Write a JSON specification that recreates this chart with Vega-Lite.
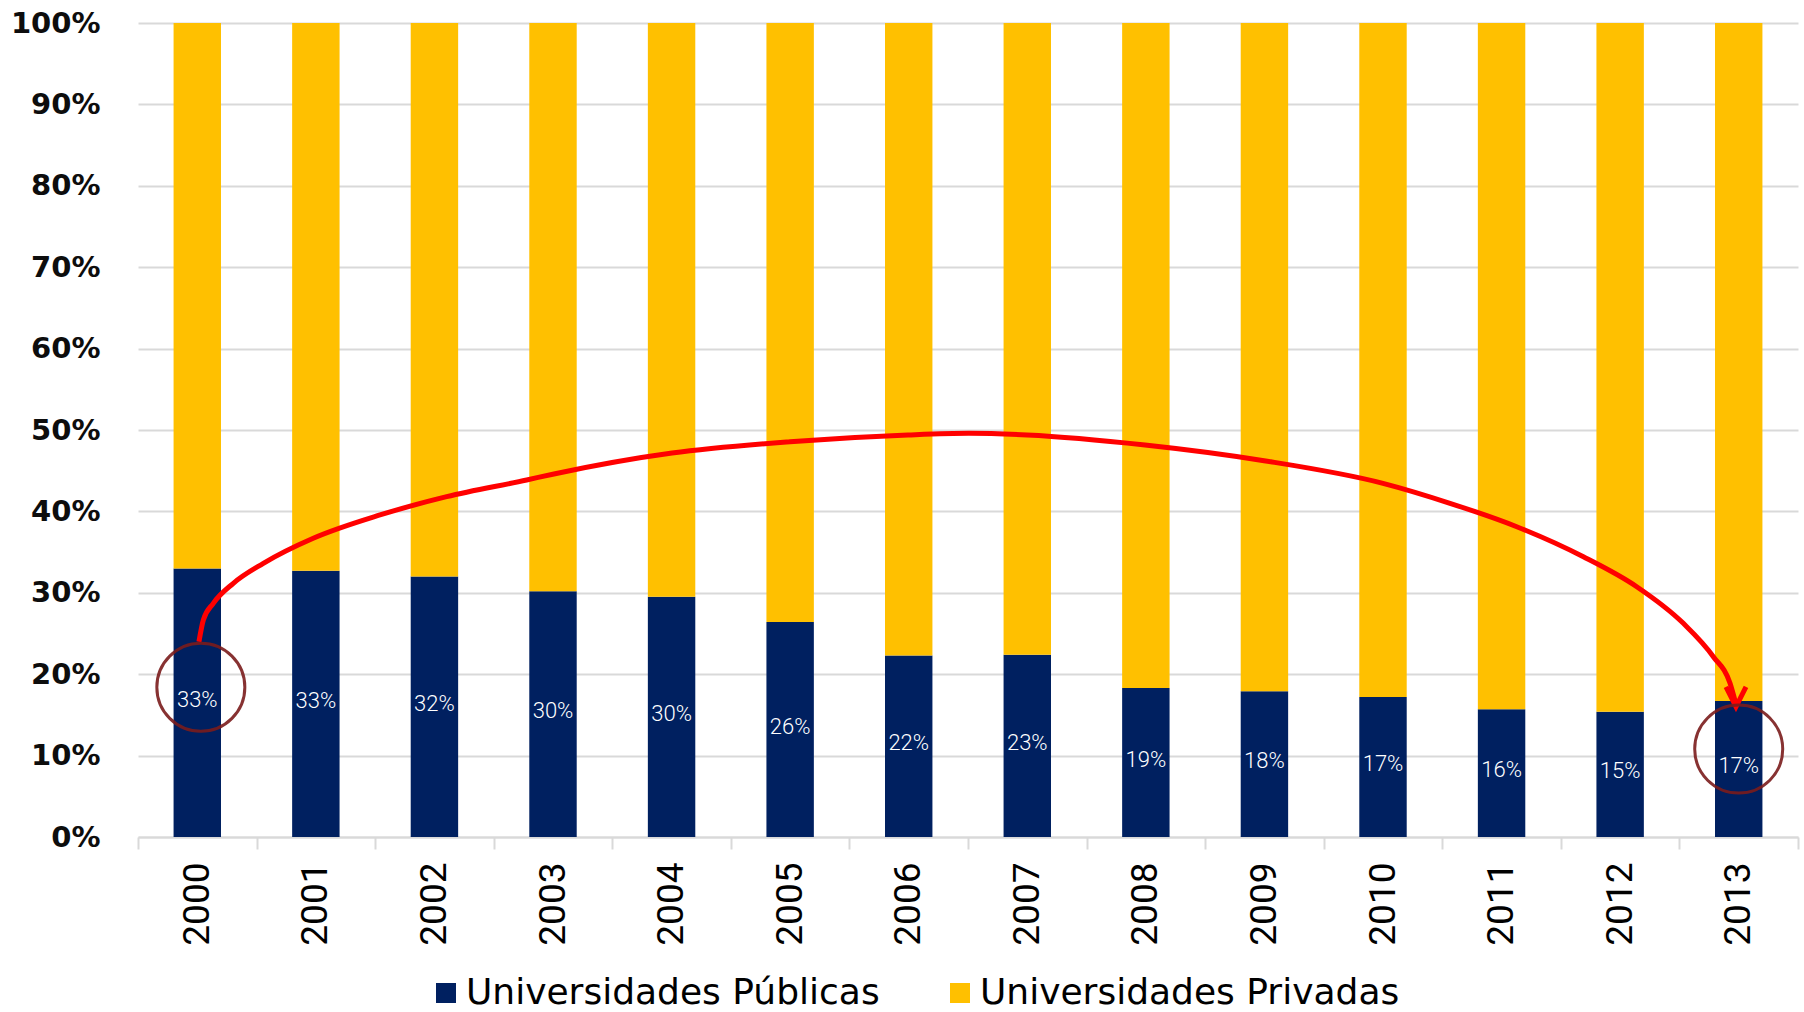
{
  "$schema": "https://vega.github.io/schema/vega-lite/v6.json",
  "width": 1660,
  "height": 814,
  "autosize": {"type": "none"},
  "padding": {"left": 138, "top": 23, "right": 6, "bottom": 175},
  "background": "white",
  "config": {
    "view": {"stroke": null},
    "legend": {
      "orient": "none",
      "legendX": 290,
      "legendY": 952,
      "direction": "horizontal",
      "title": null,
      "labelFont": "DejaVu Sans",
      "labelFontSize": 36,
      "labelLimit": 0,
      "labelColor": "#000000",
      "labelOffset": 2,
      "columnPadding": 62,
      "padding": 0,
      "symbolType": "square",
      "symbolSize": 400,
      "symbolStrokeWidth": 0,
      "symbolOpacity": 1
    }
  },
  "datasets": {
    "main": [
      {"year": "2000", "series": "Universidades Públicas", "ord": 0, "value": 33.0, "label": "33%"},
      {"year": "2001", "series": "Universidades Públicas", "ord": 0, "value": 32.7, "label": "33%"},
      {"year": "2002", "series": "Universidades Públicas", "ord": 0, "value": 32.0, "label": "32%"},
      {"year": "2003", "series": "Universidades Públicas", "ord": 0, "value": 30.2, "label": "30%"},
      {"year": "2004", "series": "Universidades Públicas", "ord": 0, "value": 29.5, "label": "30%"},
      {"year": "2005", "series": "Universidades Públicas", "ord": 0, "value": 26.4, "label": "26%"},
      {"year": "2006", "series": "Universidades Públicas", "ord": 0, "value": 22.3, "label": "22%"},
      {"year": "2007", "series": "Universidades Públicas", "ord": 0, "value": 22.4, "label": "23%"},
      {"year": "2008", "series": "Universidades Públicas", "ord": 0, "value": 18.3, "label": "19%"},
      {"year": "2009", "series": "Universidades Públicas", "ord": 0, "value": 17.9, "label": "18%"},
      {"year": "2010", "series": "Universidades Públicas", "ord": 0, "value": 17.2, "label": "17%"},
      {"year": "2011", "series": "Universidades Públicas", "ord": 0, "value": 15.7, "label": "16%"},
      {"year": "2012", "series": "Universidades Públicas", "ord": 0, "value": 15.4, "label": "15%"},
      {"year": "2013", "series": "Universidades Públicas", "ord": 0, "value": 16.7, "label": "17%"},
      {"year": "2000", "series": "Universidades Privadas", "ord": 1, "value": 67.0, "label": "67%"},
      {"year": "2001", "series": "Universidades Privadas", "ord": 1, "value": 67.3, "label": "67%"},
      {"year": "2002", "series": "Universidades Privadas", "ord": 1, "value": 68.0, "label": "68%"},
      {"year": "2003", "series": "Universidades Privadas", "ord": 1, "value": 69.8, "label": "70%"},
      {"year": "2004", "series": "Universidades Privadas", "ord": 1, "value": 70.5, "label": "70%"},
      {"year": "2005", "series": "Universidades Privadas", "ord": 1, "value": 73.6, "label": "74%"},
      {"year": "2006", "series": "Universidades Privadas", "ord": 1, "value": 77.7, "label": "78%"},
      {"year": "2007", "series": "Universidades Privadas", "ord": 1, "value": 77.6, "label": "77%"},
      {"year": "2008", "series": "Universidades Privadas", "ord": 1, "value": 81.7, "label": "81%"},
      {"year": "2009", "series": "Universidades Privadas", "ord": 1, "value": 82.1, "label": "82%"},
      {"year": "2010", "series": "Universidades Privadas", "ord": 1, "value": 82.8, "label": "83%"},
      {"year": "2011", "series": "Universidades Privadas", "ord": 1, "value": 84.3, "label": "84%"},
      {"year": "2012", "series": "Universidades Privadas", "ord": 1, "value": 84.6, "label": "85%"},
      {"year": "2013", "series": "Universidades Privadas", "ord": 1, "value": 83.3, "label": "83%"}
    ],
    "arc": [
      {"t": 2000.014, "p": 23.99},
      {"t": 2000.051, "p": 26.66},
      {"t": 2000.135, "p": 28.71},
      {"t": 2000.304, "p": 31.17},
      {"t": 2000.557, "p": 33.62},
      {"t": 2000.978, "p": 36.70},
      {"t": 2001.541, "p": 39.56},
      {"t": 2002.103, "p": 41.81},
      {"t": 2002.778, "p": 43.86},
      {"t": 2003.008, "p": 44.6},
      {"t": 2004.004, "p": 47.17},
      {"t": 2004.999, "p": 48.56},
      {"t": 2005.994, "p": 49.39},
      {"t": 2006.508, "p": 49.59},
      {"t": 2006.998, "p": 49.39},
      {"t": 2007.993, "p": 48.16},
      {"t": 2008.997, "p": 46.23},
      {"t": 2010.000, "p": 43.45},
      {"t": 2010.565, "p": 41.00},
      {"t": 2011.128, "p": 38.12},
      {"t": 2011.690, "p": 34.43},
      {"t": 2012.140, "p": 30.75},
      {"t": 2012.533, "p": 26.25},
      {"t": 2012.786, "p": 22.15},
      {"t": 2012.927, "p": 18.88},
      {"t": 2012.977, "p": 16.3}
    ],
    "arrow": [
      {"t": 2012.977, "p": 16.0}
    ],
    "circles": [
      {"t": 2000.03, "p": 18.4},
      {"t": 2013.0, "p": 10.8}
    ]
  },
  "layer": [
    {
      "data": {"name": "main"},
      "mark": {"type": "bar", "width": {"band": 0.4}},
      "encoding": {
        "x": {
          "field": "year",
          "type": "ordinal",
          "scale": {"paddingInner": 0, "paddingOuter": 0},
          "axis": {
            "title": null,
            "labelAngle": -90,
            "labelFont": "Roboto",
            "labelFontSize": 37,
            "labelColor": "#000000",
            "labelPadding": 13,
            "tickBand": "extent",
            "ticks": true,
            "tickSize": 12,
            "tickColor": "#d9d9d9",
            "tickWidth": 2,
            "domainColor": "#d9d9d9",
            "domainWidth": 2,
            "grid": false
          }
        },
        "y": {
          "field": "value",
          "type": "quantitative",
          "stack": "zero",
          "scale": {"domain": [0, 100], "nice": false},
          "axis": {
            "title": null,
            "values": [0, 10, 20, 30, 40, 50, 60, 70, 80, 90, 100],
            "labelExpr": "datum.value + '%'",
            "labelFont": "DejaVu Sans",
            "labelFontWeight": "bold",
            "labelFontSize": 29,
            "labelColor": "#0d0d0d",
            "labelPadding": 38,
            "ticks": false,
            "tickSize": 0,
            "domain": false,
            "grid": true,
            "gridColor": "#d9d9d9",
            "gridWidth": 2
          }
        },
        "color": {
          "field": "series",
          "type": "nominal",
          "scale": {
            "domain": ["Universidades Públicas", "Universidades Privadas"],
            "range": ["#002060", "#FFC000"]
          },
          "legend": {}
        },
        "order": {"field": "ord", "type": "quantitative"}
      }
    },
    {
      "data": {"name": "main"},
      "transform": [{"filter": {"field": "series", "equal": "Universidades Públicas"}}],
      "mark": {"type": "text", "font": "Roboto", "fontSize": 22, "fontWeight": 300, "color": "#ffffff", "baseline": "middle", "align": "center", "dy": -3},
      "encoding": {
        "x": {"field": "year", "type": "ordinal", "scale": {"paddingInner": 0, "paddingOuter": 0}, "axis": null},
        "y": {"field": "value", "type": "quantitative", "scale": {"domain": [0, 200], "nice": false}, "axis": null},
        "text": {"field": "label", "type": "nominal"}
      }
    },
    {
      "data": {"name": "arc"},
      "mark": {"type": "line", "interpolate": "monotone", "color": "#ff0000", "strokeWidth": 5},
      "encoding": {
        "x": {"field": "t", "type": "quantitative", "scale": {"domain": [1999.5, 2013.5], "nice": false, "zero": false}, "axis": null},
        "y": {"field": "p", "type": "quantitative", "scale": {"domain": [0, 100], "nice": false}, "axis": null}
      }
    },
    {
      "data": {"name": "arrow"},
      "mark": {"type": "point", "shape": "M-0.5,-1L0,0L0.5,-1", "size": 1600, "filled": false, "color": "#ff0000", "strokeWidth": 5, "opacity": 1, "strokeJoin": "miter"},
      "encoding": {
        "x": {"field": "t", "type": "quantitative", "scale": {"domain": [1999.5, 2013.5], "nice": false, "zero": false}, "axis": null},
        "y": {"field": "p", "type": "quantitative", "scale": {"domain": [0, 100], "nice": false}, "axis": null}
      }
    },
    {
      "data": {"name": "circles"},
      "mark": {"type": "point", "shape": "circle", "size": 7744, "filled": false, "color": "#7b1c1c", "strokeWidth": 3, "opacity": 0.9},
      "encoding": {
        "x": {"field": "t", "type": "quantitative", "scale": {"domain": [1999.5, 2013.5], "nice": false, "zero": false}, "axis": null},
        "y": {"field": "p", "type": "quantitative", "scale": {"domain": [0, 100], "nice": false}, "axis": null}
      }
    }
  ],
  "resolve": {"scale": {"x": "independent", "y": "independent"}}
}
